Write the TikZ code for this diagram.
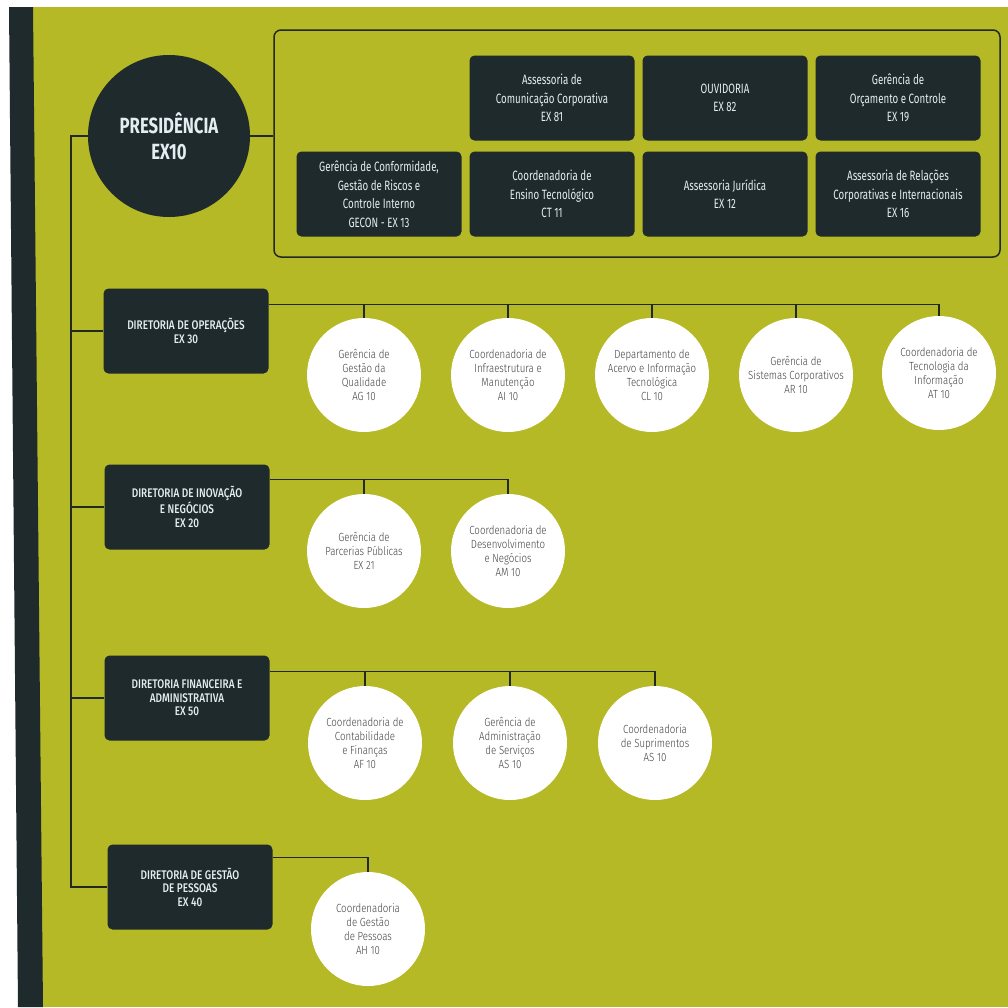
\documentclass[tikz,border=0pt]{standalone}
\usepackage{fontspec}
\setmainfont{Fira Sans}[FakeStretch=0.72]
\newfontfamily\dirfont{Fira Sans Medium}[FakeStretch=0.8]
\newfontfamily\presfont{Fira Sans Bold}[FakeStretch=0.76]
\newfontfamily\circfont{Fira Sans Light}[FakeStretch=0.82]
\definecolor{bggreen}{RGB}{182,185,38}
\definecolor{darkbox}{RGB}{31,42,44}
\definecolor{linecol}{RGB}{34,40,36}
\definecolor{boxtext}{RGB}{228,238,242}
\definecolor{circtext}{RGB}{62,64,64}

\begin{document}
\begin{tikzpicture}
        [x=1pt,y=-1pt,
        unit/.style={fill=darkbox,rounded corners=5pt,minimum width=165pt,minimum height=85pt,inner sep=2pt,align=center,text=boxtext,font=\fontsize{13.5}{18.5}\selectfont},
        diretoria/.style={unit,font=\dirfont\fontsize{12.5}{13.5}\selectfont},
        sub/.style={circle,fill=white,minimum size=114pt,inner sep=0,align=center,text=circtext,font=\circfont\fontsize{11.8}{14}\selectfont},
        link/.style={draw=linecol,line width=1.5pt}]

        \useasboundingbox (0,0) rectangle (1008,1007);
        \fill[white] (0,0) rectangle (1008,1007);
        \fill[bggreen] (20,7) rectangle (1008,1007);
        \fill[darkbox] (9,7) -- (33,7) -- (43,1007) -- (18,1007) -- cycle;

        \node[circle,fill=darkbox,minimum size=162pt,inner sep=0,align=center,text=boxtext,font=\presfont\fontsize{22}{26}\selectfont] (pres) at (169,136) {PRESIDÊNCIA\\EX10};
        \node[draw=linecol,line width=1.5pt,rounded corners=7pt,minimum width=726pt,minimum height=227pt,inner sep=0] (assessorias) at (637,143.5) {};

        \node[unit] (asc) at (552,98) {Assessoria de\\Comunicação Corporativa\\EX 81};
        \node[unit] (ouv) at (725,98) {OUVIDORIA\\EX 82};
        \node[unit] (goc) at (898,98) {Gerência de\\Orçamento e Controle\\EX 19};
        \node[unit] (gecon) at (379,194) {Gerência de Conformidade,\\Gestão de Riscos e\\Controle Interno\\GECON - EX 13};
        \node[unit] (cet) at (552,194) {Coordenadoria de\\Ensino Tecnológico\\CT 11};
        \node[unit] (asj) at (725,194) {Assessoria Jurídica\\EX 12};
        \node[unit] (arci) at (898,194) {Assessoria de Relações\\Corporativas e Internacionais\\EX 16};

        \node[diretoria] (dop) at (186,331) {DIRETORIA DE OPERAÇÕES\\EX 30};
        \node[diretoria] (din) at (187,507) {DIRETORIA DE INOVAÇÃO\\E NEGÓCIOS\\EX 20};
        \node[diretoria] (dfa) at (187,698) {DIRETORIA FINANCEIRA E\\ADMINISTRATIVA\\EX 50};
        \node[diretoria] (dgp) at (190,887) {DIRETORIA DE GESTÃO\\DE PESSOAS\\EX 40};

        \node[sub] (ag) at (364,375) {Gerência de\\Gestão da\\Qualidade\\AG 10};
        \node[sub] (ai) at (508,375) {Coordenadoria de\\Infraestrutura e\\Manutenção\\AI 10};
        \node[sub] (cl) at (652,375) {Departamento de\\Acervo e Informação\\Tecnológica\\CL 10};
        \node[sub] (ar) at (796,375) {Gerência de\\Sistemas Corporativos\\AR 10};
        \node[sub] (at) at (939,373) {Coordenadoria de\\Tecnologia da\\Informação\\AT 10};

        \node[sub] (ex21) at (364,551) {Gerência de\\Parcerias Públicas\\EX 21};
        \node[sub] (am) at (508,551) {Coordenadoria de\\Desenvolvimento\\e Negócios\\AM 10};

        \node[sub] (af) at (365,743) {Coordenadoria de\\Contabilidade\\e Finanças\\AF 10};
        \node[sub] (as) at (510,743) {Gerência de\\Administração\\de Serviços\\AS 10};
        \node[sub] (asu) at (655,743) {Coordenadoria\\de Suprimentos\\AS 10};

        \node[sub] (ah) at (368,929) {Coordenadoria\\de Gestão\\de Pessoas\\AH 10};

        \coordinate (trunk) at (71,136);
        \coordinate (bop) at ([yshift=-16pt]dop.north east);
        \coordinate (bin) at ([yshift=-15pt]din.north east);
        \coordinate (bfa) at ([yshift=-16pt]dfa.north east);
        \coordinate (bgp) at ([yshift=-13pt]dgp.north east);

        \draw[link] (pres.east) -- (pres.east -| assessorias.west);
        \draw[link] (pres.west) -- (trunk) |- (dgp.west);
        \draw[link] (trunk |- dop.west) -- (dop.west);
        \draw[link] (trunk |- din.west) -- (din.west);
        \draw[link] (trunk |- dfa.west) -- (dfa.west);

        \draw[link] (bop) -| (at.north);
        \draw[link] (ag.north) -- (ag.north |- bop);
        \draw[link] (ai.north) -- (ai.north |- bop);
        \draw[link] (cl.north) -- (cl.north |- bop);
        \draw[link] (ar.north) -- (ar.north |- bop);

        \draw[link] (bin) -| (am.north);
        \draw[link] (ex21.north) -- (ex21.north |- bin);

        \draw[link] (bfa) -| (asu.north);
        \draw[link] (af.north) -- (af.north |- bfa);
        \draw[link] (as.north) -- (as.north |- bfa);

        \draw[link] (bgp) -| (ah.north);

      \end{tikzpicture}
\end{document}
